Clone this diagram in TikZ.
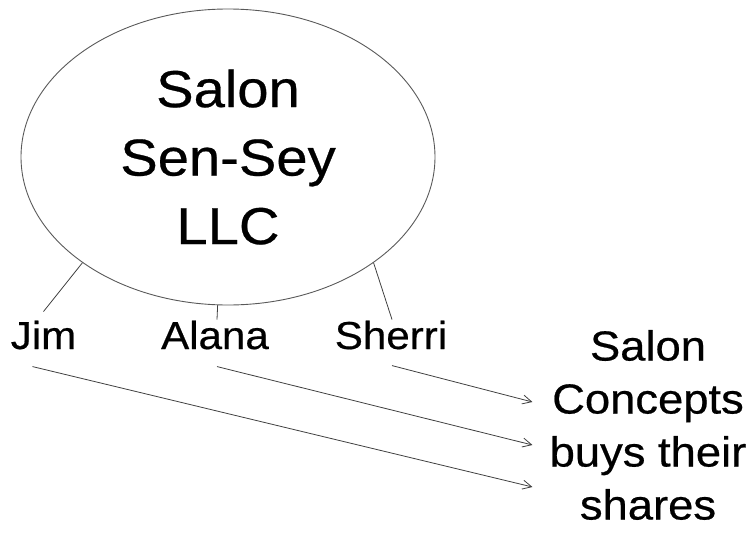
\documentclass[tikz,border=0pt]{standalone}
\usepackage{fontspec}
\setmainfont{Liberation Sans}[FakeStretch=1.08, FakeBold=0.5]
\usetikzlibrary{shapes.geometric,arrows.meta,calc}
\tikzset{
  firm/.style={ellipse, draw=black!65, line width=0.9pt, minimum width=414pt, minimum height=296pt, inner sep=0pt, align=center, font=\fontsize{52}{68.5}\selectfont},
  owner/.style={anchor=base, inner sep=1pt, font=\fontsize{39}{47}\selectfont},
  buyer/.style={align=center, inner sep=0pt, font=\fontsize{42}{53}\selectfont},
  tie/.style={draw=black!75, line width=0.8pt},
  sale/.style={tie, -{Straight Barb[length=9pt,width=9pt]}},
}
\begin{document}
\begin{tikzpicture}[x=1pt, y=-1pt]
\useasboundingbox (0,0) rectangle (756,541);
\node[firm] (LLC) at (228,157) {Salon\\Sen-Sey\\LLC};
\node[owner] (Jim) at (43.5,349) {Jim};
\node[owner] (Alana) at (215,349) {Alana};
\node[owner] (Sherri) at (391,349) {Sherri};
\draw[tie] (LLC.216) -- ([yshift=8pt]Jim.north);
\draw[tie] (LLC.266) -- ([xshift=2pt]Alana.north);
\draw[tie] (LLC.324) -- ([xshift=1pt]Sherri.north);
\node[buyer] (Concepts) at (648,425) {Salon\\Concepts\\buys their\\shares};
\draw[sale] ($(Sherri.south)+(1,15)$) -- ($(Concepts.west)+(-17,-23)$);
\draw[sale] ($(Alana.south)+(2,16)$) -- ($(Concepts.west)+(-17,20)$);
\draw[sale] ($(Jim.south)+(-11,16)$) -- ($(Concepts.west)+(-17,62)$);
\end{tikzpicture}
\end{document}
